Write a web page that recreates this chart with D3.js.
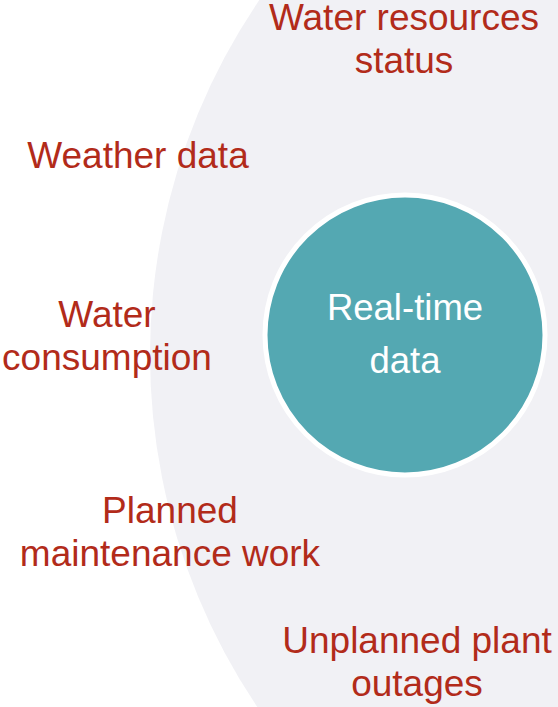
<!DOCTYPE html>
<html>
<head>
<meta charset="utf-8">
<script src="https://cdn.jsdelivr.net/npm/d3@7/dist/d3.min.js"></script>
<style>
html,body{margin:0;padding:0;background:#fff;}
svg{display:block;}
</style>
</head>
<body>
<svg id="chart" width="558" height="707"></svg>
<script>
// Data
const centerLabel = ["Real-time", "data"];
const sources = [
  ["Water resources", "status"],
  ["Weather data"],
  ["Water", "consumption"],
  ["Planned", "maintenance work"],
  ["Unplanned plant", "outages"]
];

// Layout (positions of label anchors: x center, first baseline y)
const labelAnchors = [
  {x: 404, y: 30},
  {x: 138, y: 168},
  {x: 107, y: 327},
  {x: 170, y: 523},
  {x: 417, y: 653}
];

const W = 558, H = 707;
const svg = d3.select("#chart");

// big background circle
svg.append("circle")
  .attr("cx", 781).attr("cy", 355).attr("r", 631)
  .attr("fill", "#f1f1f5");

// teal circle
svg.append("circle")
  .attr("cx", 405).attr("cy", 335).attr("r", 140)
  .attr("fill", "#54a8b2")
  .attr("stroke", "#ffffff")
  .attr("stroke-width", 5);

const font = "'Liberation Sans', Arial, sans-serif";

svg.append("text")
  .attr("text-anchor", "middle")
  .attr("font-family", font)
  .attr("font-size", 36.5)
  .attr("fill", "#ffffff")
  .selectAll("tspan")
  .data(centerLabel)
  .join("tspan")
  .attr("x", 405)
  .attr("y", (d, i) => 320 + i * 53)
  .text(d => d);

const g = svg.append("g")
  .attr("font-family", font)
  .attr("font-size", 37)
  .attr("fill", "#b22b1a")
  .attr("text-anchor", "middle");

g.selectAll("text")
  .data(sources)
  .join("text")
  .each(function(lines, i) {
    const a = labelAnchors[i];
    d3.select(this).selectAll("tspan")
      .data(lines)
      .join("tspan")
      .attr("x", a.x)
      .attr("y", (d, j) => a.y + j * 42.5)
      .text(d => d);
  });
</script>
</body>
</html>
